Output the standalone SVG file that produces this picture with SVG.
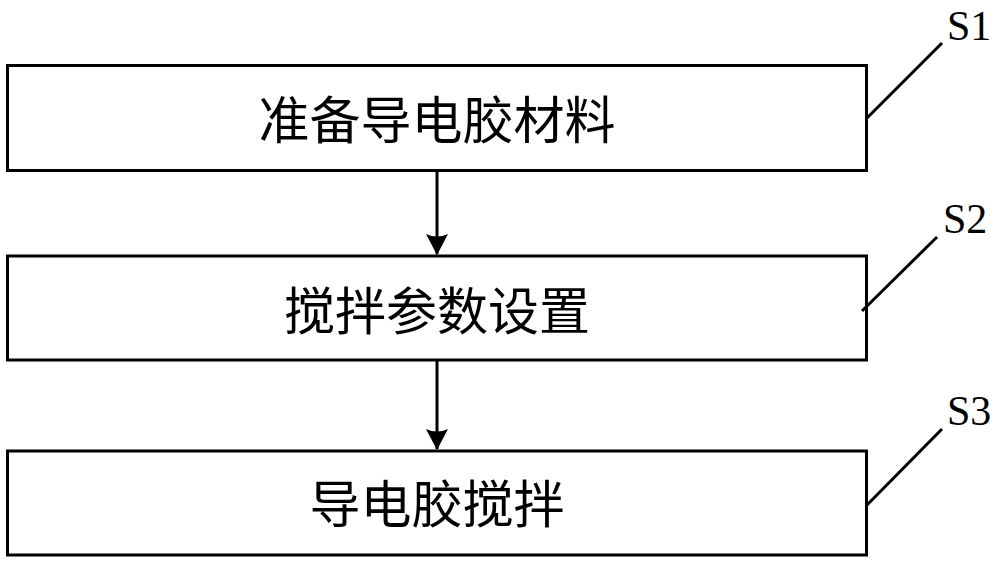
<svg xmlns="http://www.w3.org/2000/svg" width="1000" height="566" viewBox="0 0 1000 566">
<style>
.box{fill:#fff;stroke:#000;stroke-width:3}
.lbl{font-family:"Noto Sans CJK SC","Noto Sans",sans-serif;font-size:51px;fill:#000;text-anchor:middle;dominant-baseline:central}
.tag{font-family:"Liberation Serif",serif;font-size:42px;fill:#000}
.ln{stroke:#000;stroke-width:3;fill:none}
</style>
<defs>
<marker id="ah" markerWidth="21" markerHeight="22" refX="20" refY="11" orient="auto" markerUnits="userSpaceOnUse" viewBox="0 0 21 22">
<path d="M0,0 Q5,11 0,22 L21,11 Z" fill="#000"/>
</marker>
</defs>
<rect width="1000" height="566" fill="#fff"/>
<g id="s1">
<rect class="box" x="7.5" y="65.5" width="859" height="105"/>
<text class="lbl" x="437" y="117">准备导电胶材料</text>
<line class="ln" x1="867" y1="118" x2="942" y2="43"/>
<text class="tag" x="947" y="40">S1</text>
</g>
<g id="s2">
<rect class="box" x="7.5" y="256" width="859" height="104"/>
<text class="lbl" x="437" y="308">搅拌参数设置</text>
<line class="ln" x1="862" y1="311" x2="937" y2="237"/>
<text class="tag" x="943" y="233">S2</text>
</g>
<g id="s3">
<rect class="box" x="7.5" y="451" width="859" height="104"/>
<text class="lbl" x="437" y="501">导电胶搅拌</text>
<line class="ln" x1="867" y1="505" x2="942" y2="429"/>
<text class="tag" x="947" y="425">S3</text>
</g>
<g id="connectors">
<line class="ln" x1="437" y1="171" x2="437" y2="254" marker-end="url(#ah)"/>
<line class="ln" x1="437" y1="361" x2="437" y2="449" marker-end="url(#ah)"/>
</g>
</svg>
